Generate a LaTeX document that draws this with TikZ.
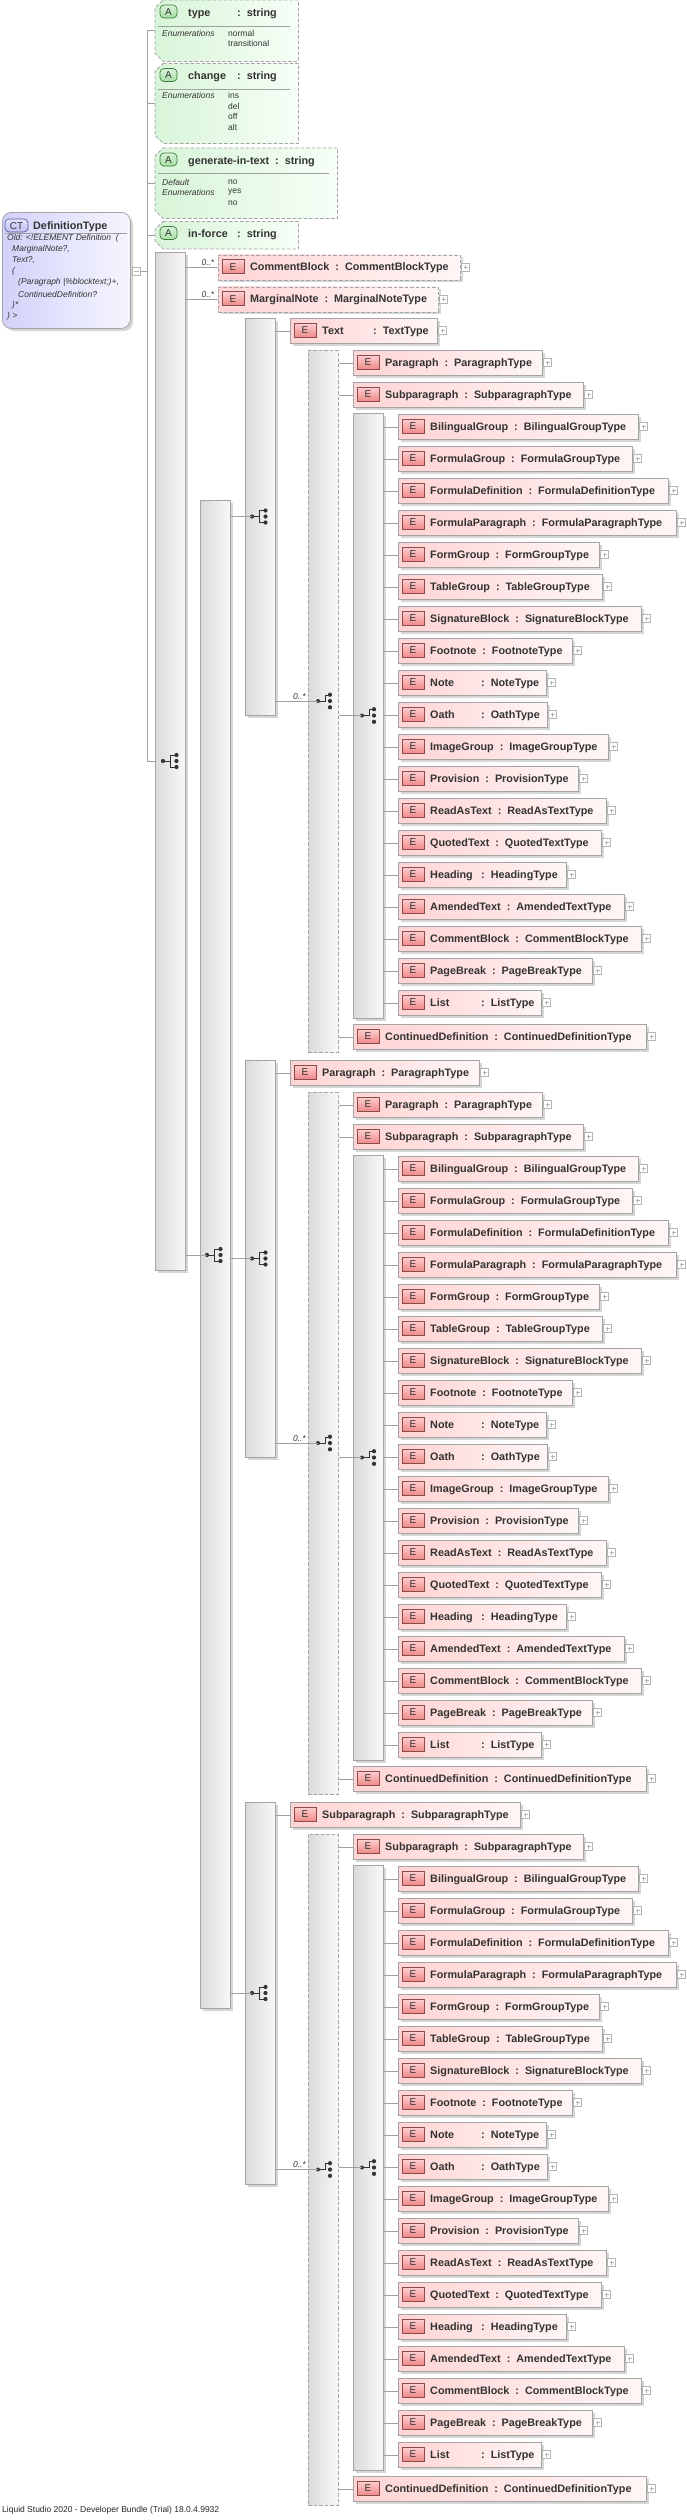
\documentclass[tikz,border=0pt]{standalone}
\usepackage{fontspec}
\setmainfont{Liberation Sans}
\usetikzlibrary{calc}
\definecolor{txt}{HTML}{333333}
\definecolor{bord}{HTML}{A4A4A4}
\definecolor{lin}{HTML}{A0A0A0}
\definecolor{shad}{HTML}{D6D6D6}
\definecolor{elL}{HTML}{FFD4D4}
\definecolor{elR}{HTML}{FFF6F6}
\definecolor{ebT}{HTML}{FFD0D0}
\definecolor{ebB}{HTML}{EE8A8A}
\definecolor{ebD}{HTML}{8C4B4B}
\definecolor{grL}{HTML}{DADADA}
\definecolor{grR}{HTML}{F8F8F8}
\definecolor{atL}{HTML}{D8F4D8}
\definecolor{atR}{HTML}{F7FFF7}
\definecolor{abT}{HTML}{D8F4D8}
\definecolor{abB}{HTML}{A6DCA6}
\definecolor{abD}{HTML}{3D7F3D}
\definecolor{ctL}{HTML}{D2D2FA}
\definecolor{ctR}{HTML}{F6F6FF}
\definecolor{cbT}{HTML}{E4E4FF}
\definecolor{cbB}{HTML}{BDBDF0}
\definecolor{cbD}{HTML}{5A5AA6}
\definecolor{plusc}{HTML}{B4B4B4}
\newcommand\padname[2]{\setbox0=\hbox{#2}\ifdim\wd0<#1\relax\hbox to #1{#2\hfil}\else\box0\fi}
\tikzset{
 conn/.style={draw=lin,line width=0.8pt},
 opt/.style={dash pattern=on 3.5pt off 2pt},
 elbox/.style={draw=bord,line width=0.8pt,left color=elL,right color=elR,inner sep=0pt,minimum height=25pt},
 ebadge/.style={draw=ebD,line width=0.7pt,top color=ebT,bottom color=ebB},
 etext/.style={font=\fontsize{10.8}{12}\selectfont\bfseries,text=txt,inner sep=0pt},
 badgetext/.style={font=\fontsize{10}{10}\selectfont,text=txt,inner sep=0pt},
 plusb/.style={draw=plusc,line width=0.6pt,fill=white},
 plussign/.style={draw=plusc,line width=0.6pt},
 grpbox/.style={draw=bord,line width=0.8pt,left color=grL,right color=grR,inner sep=0pt},
 icon/.style={draw=txt,line width=0.8pt},
 mult/.style={font=\fontsize{8.5}{9}\selectfont\itshape,text=txt,inner sep=0pt},
 attrbox/.style={draw=bord,line width=0.8pt,opt,left color=atL,right color=atR},
 abadge/.style={draw=abD,line width=0.7pt,top color=abT,bottom color=abB,rounded corners=4pt},
 small/.style={font=\fontsize{8.5}{9}\selectfont,text=txt,inner sep=0pt},
 smallit/.style={font=\fontsize{8.5}{9}\selectfont\itshape,text=txt,inner sep=0pt},
 sep/.style={draw=lin,line width=0.8pt},
}
% element box: name, x, top, right, element name, type, extra style
\newcommand\elem[7]{%
 \pgfmathsetmacro\ew{#4-#2}%
 \fill[shad] (#2+2.5,#3+2.5) rectangle (#4+2.5,#3+27.5);%
 \node[elbox,#7,anchor=north west,minimum width=\ew pt] (#1) at (#2,#3) {};%
 \draw[ebadge] (#2+4,#3+5) rectangle (#2+26,#3+19);%
 \node[badgetext] at (#2+15,#3+12.3) {E};%
 \node[etext,anchor=base west] at (#2+32,#3+16.2) {\padname{45pt}{#5}\hspace{6pt}:\hspace{6pt}#6};%
 \draw[plusb] (#4+1.5,#3+8.5) rectangle (#4+9.5,#3+16.5);%
 \draw[plussign] (#4+3.5,#3+12.5) -- (#4+7.5,#3+12.5) (#4+5.5,#3+10.5) -- (#4+5.5,#3+14.5);%
}
% group bar: name, x, top, bottom, extra style
\newcommand\grp[5]{%
 \pgfmathsetmacro\gh{#4-#3}%
 \fill[shad] (#2+3,#3+3) rectangle (#2+33,#4+3);%
 \node[grpbox,#5,anchor=north west,minimum width=30pt,minimum height=\gh pt] (#1) at (#2,#3) {};%
}
\newcommand\grpd[4]{%
 \pgfmathsetmacro\gh{#4-#3}%
 \node[grpbox,opt,anchor=north west,minimum width=30pt,minimum height=\gh pt] (#1) at (#2,#3) {};%
}
\newcommand\seqicon[3]{%
 \coordinate (#1) at (#2,#3);%
 \draw[icon] (#2,#3) -- (#2+7,#3) (#2+7,#3-6) -- (#2+7,#3+6) (#2+7,#3-6) -- (#2+13,#3-6) (#2+7,#3+6) -- (#2+13,#3+6);%
 \fill[txt] (#2,#3) circle[radius=2.1pt] (#2+13.5,#3-6) circle[radius=2.1pt] (#2+13.5,#3) circle[radius=2.1pt] (#2+13.5,#3+6) circle[radius=2.1pt];%
}
\newcommand\choiceicon[3]{%
 \coordinate (#1) at (#2,#3);%
 \draw[icon] (#2,#3) -- (#2+7,#3) -- (#2+7,#3-6) -- (#2+10,#3-6);%
 \fill[txt] (#2,#3) circle[radius=2pt] (#2+12,#3-6.3) circle[radius=2.1pt] (#2+12,#3) circle[radius=2.1pt] (#2+12,#3+6.3) circle[radius=2.1pt];%
}
% attribute: name, top, bottom, right, label
\newcommand\attr[5]{%
 \pgfmathsetmacro\aw{#4-155}\pgfmathsetmacro\ah{#3-#2}%
 \node[inner sep=0pt,minimum width=\aw pt,minimum height=\ah pt,anchor=north west] (#1) at (155,#2) {};%
 \path[attrbox] ([xshift=8pt]#1.north west) -- (#1.north east) -- (#1.south east) -- ([xshift=8pt]#1.south west) -- ([yshift=8pt]#1.south west) -- ([yshift=-8pt]#1.north west) -- cycle;%
 \draw[abadge] (160,#2+5) rectangle (177,#2+18);%
 \node[badgetext] at (168.5,#2+11.6) {A};%
 \node[etext,anchor=base west] at (188,#2+16) {\padname{43pt}{#5}\hspace{6pt}:\hspace{6pt}string};%
}
\newcommand\innerlist[2]{%
 \foreach \en/\et/\er [count=\i from 0] in {BilingualGroup/BilingualGroupType/638,
  FormulaGroup/FormulaGroupType/632, FormulaDefinition/FormulaDefinitionType/668,
  FormulaParagraph/FormulaParagraphType/676, FormGroup/FormGroupType/599,
  TableGroup/TableGroupType/602, SignatureBlock/SignatureBlockType/641,
  Footnote/FootnoteType/572, Note/NoteType/546, Oath/OathType/547,
  ImageGroup/ImageGroupType/608, Provision/ProvisionType/578,
  ReadAsText/ReadAsTextType/606, QuotedText/QuotedTextType/601,
  Heading/HeadingType/566, AmendedText/AmendedTextType/624,
  CommentBlock/CommentBlockType/641, PageBreak/PageBreakType/592,
  List/ListType/541}{%
  \pgfmathsetmacro\yy{#2+1+32*\i}%
  \elem{#1e\i}{398}{\yy}{\er}{\en}{\et}{}%
  \draw[conn] (#1.east |- #1e\i.west) -- (#1e\i.west);%
 }%
}
\begin{document}
\begin{tikzpicture}[x=1pt,y=-1pt]
\useasboundingbox (0,0) rectangle (686,2520);
\fill[white] (0,0) rectangle (686,2520);

% ---------- complex type ----------
\fill[shad,rounded corners=9pt] (5,215) rectangle (133,331);
\node[draw=bord,line width=0.8pt,left color=ctL,right color=ctR,rounded corners=9pt,inner sep=0pt,minimum width=128pt,minimum height=116pt,anchor=north west] (ct) at (2,212) {};
\draw[draw=cbD,line width=0.7pt,top color=cbT,bottom color=cbB,rounded corners=4pt] (5,219) rectangle (28,232);
\node[badgetext] at (16.5,225.6) {CT};
\node[etext,anchor=base west] at (33,229.5) {DefinitionType};
\draw[sep] (5,233) -- (127,233);
\node[smallit,anchor=west] (l1) at (7,238) {Old: <!ELEMENT Definition \ (};
\node[smallit,anchor=west] (l2) at (12,249.2) {MarginalNote?,};
\node[smallit,anchor=west] (l3) at (12,260.4) {Text?,};
\node[smallit,anchor=west] (l4) at (12,271.6) {(};
\node[smallit,anchor=west] (l5) at (18,282.8) {(Paragraph |\%blocktext;)+,};
\node[smallit,anchor=west] (l6) at (18,294) {ContinuedDefinition?};
\node[smallit,anchor=west] (l7) at (12,305.2) {)*};
\node[smallit,anchor=west] (l8) at (7,316.4) {) >};
\node[draw=plusc,line width=0.6pt,fill=white,minimum size=8pt,inner sep=0pt] (ctm) at (136,271) {};
\draw[plussign] (133.5,271) -- (138.5,271);

% ---------- attributes ----------
\attr{aType}{0}{61}{298}{type}
\draw[sep] (158,26) -- (290,26);
\node[smallit,anchor=west] (aTypeE) at (162,33) {Enumerations};
\node[small,anchor=west] (aTypeV1) at (228,33) {normal};
\node[small,anchor=west] (aTypeV2) at (228,43.5) {transitional};

\attr{aChange}{63.5}{143}{298}{change}
\draw[sep] (158,89.5) -- (290,89.5);
\node[smallit,anchor=west] (aChE) at (162,95.5) {Enumerations};
\node[small,anchor=west] (aChV1) at (228,95.5) {ins};
\node[small,anchor=west] (aChV2) at (228,106) {del};
\node[small,anchor=west] (aChV3) at (228,116.5) {off};
\node[small,anchor=west] (aChV4) at (228,127) {alt};

\attr{aGen}{148}{218}{337}{generate-in-text}
\draw[sep] (158,173.5) -- (329,173.5);
\node[smallit,anchor=west] (aGenD) at (162,182) {Default};
\node[smallit,anchor=west] (aGenE) at (162,192.5) {Enumerations};
\node[small,anchor=west] (aGenV0) at (228,182) {no};
\node[small,anchor=west] (aGenV1) at (228,192.5) {yes};
\node[small,anchor=west] (aGenV2) at (228,203) {no};

\attr{aForce}{221.5}{248.5}{298}{in-force}

% ---------- main sequence ----------
\grp{mseq}{155}{252}{1270}{}
\seqicon{mseqi}{163}{761}
\coordinate (vx) at (147,0);
\draw[conn] (ctm.east) -- (ctm.east -| vx);
\draw[conn] (vx |- aType.west) -- (vx |- mseqi);
\draw[conn] (vx |- aType.west) -- (aType.west);
\draw[conn] (vx |- aChange.west) -- (aChange.west);
\draw[conn] (vx |- aGen.west) -- (aGen.west);
\draw[conn] (vx |- aForce.west) -- (aForce.west);
\draw[conn] (vx |- mseqi) -- (mseq.west |- mseqi);

\elem{cb}{218}{254.5}{460}{CommentBlock}{CommentBlockType}{opt}
\elem{mn}{218}{286.5}{438}{MarginalNote}{MarginalNoteType}{opt}
\draw[conn] (mseq.east |- cb.west) -- (cb.west);
\draw[conn] (mseq.east |- mn.west) -- (mn.west);
\node[mult,anchor=south east] (cbm) at (214.5,265.5) {0..*};
\node[mult,anchor=south east] (mnm) at (214.5,297.5) {0..*};

% ---------- second level ----------
\grp{g2}{200}{500}{2008}{}
\seqicon{g2i}{207}{1255}
\draw[conn] (mseq.east |- g2i) -- (g2i);

% ---------- section 1 : Text ----------
\grp{q1}{245}{318}{715}{}
\seqicon{q1i}{252}{516.5}
\draw[conn] (g2.east |- q1i) -- (q1i);
\elem{t1}{290}{318}{437}{Text}{TextType}{}
\draw[conn] (q1.east |- t1.west) -- (t1.west);
\grpd{c1}{308}{350}{1052}
\choiceicon{c1i}{318}{701}
\draw[conn] (q1.east |- c1i) -- (c1i);
\node[mult,anchor=south east] (c1m) at (306,699.5) {0..*};
\elem{p1}{353}{350}{542}{Paragraph}{ParagraphType}{}
\elem{sp1}{353}{382}{583}{Subparagraph}{SubparagraphType}{}
\draw[conn] (c1.east |- p1.west) -- (p1.west);
\draw[conn] (c1.east |- sp1.west) -- (sp1.west);
\grp{n1}{353}{413}{1018}{}
\choiceicon{n1i}{362}{715.5}
\draw[conn] (c1.east |- n1i) -- (n1i);
\innerlist{n1}{413}
\elem{cd1}{353}{1024}{646}{ContinuedDefinition}{ContinuedDefinitionType}{}
\draw[conn] (c1.east |- cd1.west) -- (cd1.west);

% ---------- section 2 : Paragraph ----------
\grp{q2}{245}{1060}{1457}{}
\seqicon{q2i}{252}{1258.5}
\draw[conn] (g2.east |- q2i) -- (q2i);
\elem{t2}{290}{1060}{479}{Paragraph}{ParagraphType}{}
\draw[conn] (q2.east |- t2.west) -- (t2.west);
\grpd{c2}{308}{1092}{1794}
\choiceicon{c2i}{318}{1443}
\draw[conn] (q2.east |- c2i) -- (c2i);
\node[mult,anchor=south east] (c2m) at (306,1441.5) {0..*};
\elem{p2}{353}{1092}{542}{Paragraph}{ParagraphType}{}
\elem{sp2}{353}{1124}{583}{Subparagraph}{SubparagraphType}{}
\draw[conn] (c2.east |- p2.west) -- (p2.west);
\draw[conn] (c2.east |- sp2.west) -- (sp2.west);
\grp{n2}{353}{1155}{1760}{}
\choiceicon{n2i}{362}{1457.5}
\draw[conn] (c2.east |- n2i) -- (n2i);
\innerlist{n2}{1155}
\elem{cd2}{353}{1766}{646}{ContinuedDefinition}{ContinuedDefinitionType}{}
\draw[conn] (c2.east |- cd2.west) -- (cd2.west);

% ---------- section 3 : Subparagraph ----------
\grp{q3}{245}{1802}{2184}{}
\seqicon{q3i}{252}{1993}
\draw[conn] (g2.east |- q3i) -- (q3i);
\elem{t3}{290}{1802}{520}{Subparagraph}{SubparagraphType}{}
\draw[conn] (q3.east |- t3.west) -- (t3.west);
\grpd{c3}{308}{1834}{2505}
\choiceicon{c3i}{318}{2169.5}
\draw[conn] (q3.east |- c3i) -- (c3i);
\node[mult,anchor=south east] (c3m) at (306,2168) {0..*};
\elem{sp3}{353}{1834}{583}{Subparagraph}{SubparagraphType}{}
\draw[conn] (c3.east |- sp3.west) -- (sp3.west);
\grp{n3}{353}{1865}{2470}{}
\choiceicon{n3i}{362}{2167.5}
\draw[conn] (c3.east |- n3i) -- (n3i);
\innerlist{n3}{1865}
\elem{cd3}{353}{2476}{646}{ContinuedDefinition}{ContinuedDefinitionType}{}
\draw[conn] (c3.east |- cd3.west) -- (cd3.west);

% ---------- footer ----------
\node[small,anchor=west,text=black!85] (footer) at (2,2510) {Liquid Studio 2020 - Developer Bundle (Trial) 18.0.4.9932};
\end{tikzpicture}
\end{document}
